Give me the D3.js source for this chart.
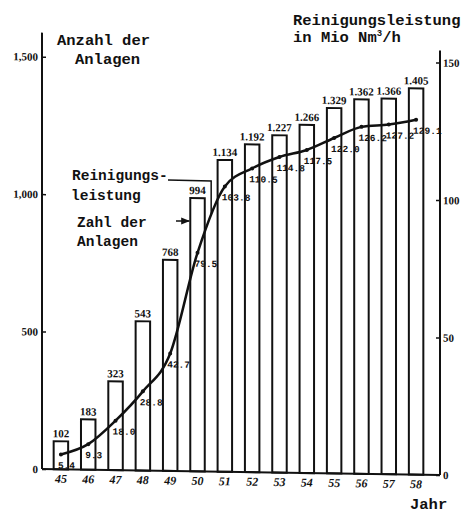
<!DOCTYPE html>
<html>
<head>
<meta charset="utf-8">
<script src="https://cdn.jsdelivr.net/npm/d3@7"></script>
<style>
  body { margin: 0; background: #fff; }
  .mono { font-family: "Liberation Mono", "DejaVu Sans Mono", monospace; font-weight: bold; fill: #111; }
  .num { font-family: "Liberation Serif", "DejaVu Serif", serif; font-weight: bold; fill: #111; }
</style>
</head>
<body>
<div id="chart"></div>
<script>
// years (19xx) on the x axis
const years = ["45", "46", "47", "48", "49", "50", "51", "52", "53", "54", "55", "56", "57", "58"];
// Anzahl der Anlagen (bars, left axis)
const anlagen = [102, 183, 323, 543, 768, 994, 1134, 1192, 1227, 1266, 1329, 1362, 1366, 1405];
// Reinigungsleistung in Mio Nm3/h (line, right axis)
const leistung = [5.4, 9.3, 18.0, 28.8, 42.7, 79.5, 103.8, 110.5, 114.8, 117.5, 122.0, 126.2, 127.2, 129.1];
// tick labels
const leftTicks = [0, 500, 1000, 1500];
const rightTicks = [0, 50, 100, 150];

function AnlagenChart({
    target,
    width = 467,
    height = 516,
    axisLeftX = 42,    // left axis line
    axisRightX = 440,  // right axis line
    base = 468.4,      // baseline (before skew)
    top = 56,          // y of 1,500 / 150
    skew = 0.86,       // the scan is slightly sheared
} = {}) {
    const svg = d3.select(target)
        .append("svg")
        .attr("width", width)
        .attr("height", height)
        .style("background", "#fff");

    const k = Math.tan(skew * Math.PI / 180);
    const g = svg.append("g").attr("transform", `skewY(${skew})`);

    const x = d3.scaleBand().domain(years).range([40, 437]).paddingInner(0.47).paddingOuter(0.5);
    const yL = d3.scaleLinear().domain([0, 1500]).range([base, top]);
    const yR = d3.scaleLinear().domain([0, 150]).range([base, top]);
    const bw = x.bandwidth();
    const cx = d => x(d) + bw / 2;

    // bars
    g.selectAll(".bar")
        .data(anlagen)
        .enter().append("rect")
        .attr("class", "bar")
        .attr("x", (d, i) => x(years[i]))
        .attr("y", d => yL(d))
        .attr("width", bw)
        .attr("height", d => base - yL(d))
        .attr("fill", "#fff")
        .attr("stroke", "#111")
        .attr("stroke-width", 2);

    // bar values, german thousands separator
    const de = d3.formatLocale({decimal: ",", thousands: ".", grouping: [3], currency: ["", ""]});
    g.selectAll(".barlabel")
        .data(anlagen)
        .enter().append("text")
        .attr("class", "num")
        .attr("x", (d, i) => cx(years[i]))
        .attr("y", d => yL(d) - 4)
        .attr("text-anchor", "middle")
        .style("font-size", "11px")
        .text(d => de.format(",")(d));

    // axes
    const leftAxis = g.append("g")
        .attr("transform", `translate(${axisLeftX},0)`)
        .call(d3.axisLeft(yL).tickValues(leftTicks).tickFormat(d3.format(",")).tickSizeInner(-4).tickSizeOuter(0).tickPadding(4));
    const rightAxis = g.append("g")
        .attr("transform", `translate(${axisRightX},0)`)
        .call(d3.axisRight(yR).tickValues(rightTicks).tickSizeInner(-4).tickSizeOuter(0).tickPadding(3));
    [leftAxis, rightAxis].forEach(a => {
        a.select(".domain").remove();
        a.selectAll("line").attr("stroke", "#111").attr("stroke-width", 1.5);
        a.selectAll("text").attr("class", "num").style("font-size", "11px");
    });

    const yearAxis = g.append("g")
        .attr("transform", `translate(0,${base})`)
        .call(d3.axisBottom(x).tickSize(0).tickPadding(5));
    yearAxis.select(".domain").remove();
    yearAxis.selectAll("text").attr("class", "num").style("font-size", "12px").style("font-style", "italic");

    // axis lines and baseline
    g.append("line").attr("x1", axisLeftX).attr("x2", axisLeftX).attr("y1", 32).attr("y2", base)
        .attr("stroke", "#111").attr("stroke-width", 2);
    g.append("line").attr("x1", axisRightX).attr("x2", axisRightX).attr("y1", 44).attr("y2", base)
        .attr("stroke", "#111").attr("stroke-width", 2);
    g.append("line").attr("x1", axisLeftX).attr("x2", axisRightX).attr("y1", base).attr("y2", base)
        .attr("stroke", "#111").attr("stroke-width", 2);

    // Reinigungsleistung line
    const line = d3.line()
        .x((d, i) => cx(years[i]))
        .y(d => yR(d))
        .curve(d3.curveMonotoneX);
    g.append("path")
        .datum(leistung)
        .attr("d", line)
        .attr("fill", "none")
        .attr("stroke", "#111")
        .attr("stroke-width", 2.5);
    g.selectAll(".pt")
        .data(leistung)
        .enter().append("circle")
        .attr("cx", (d, i) => cx(years[i]))
        .attr("cy", d => yR(d))
        .attr("r", 2)
        .attr("fill", "#111");
    g.selectAll(".linelabel")
        .data(leistung)
        .enter().append("text")
        .attr("class", "mono")
        .attr("x", (d, i) => cx(years[i]) - 3)
        .attr("y", d => yR(d) + 14)
        .style("font-size", "9.5px")
        .text(d => d3.format(".1f")(d));

    // titles
    const txt = (t, tx, ty, size) => svg.append("text").attr("class", "mono")
        .attr("x", tx).attr("y", ty).style("font-size", size + "px").text(t);
    txt("Anzahl der", 57, 45, 15.5);
    txt("Anlagen", 75, 64, 15.5);
    txt("Reinigungsleistung", 293, 25, 15.5);
    const unit = txt("in Mio Nm", 293, 42, 15.5);
    unit.append("tspan").attr("dy", -6).style("font-size", "9px").text("3");
    unit.append("tspan").attr("dy", 6).text("/h");
    txt("Jahr", 410, 509, 15.5);

    // callouts
    txt("Reinigungs-", 72, 180, 14.5);
    txt("leistung", 71, 200, 14.5);
    txt("Zahl der", 77, 227, 14.5);
    txt("Anlagen", 77, 246, 14.5);

    const lx = x("50") + bw + (x.step() - bw) / 2;
    svg.append("path")
        .attr("d", `M168,180 L${lx},181 L${lx},${yR(93) + lx * k}`)
        .attr("fill", "none").attr("stroke", "#111").attr("stroke-width", 1.5);

    svg.append("defs").append("marker")
        .attr("id", "arrow").attr("viewBox", "0 0 10 10").attr("refX", 9).attr("refY", 5)
        .attr("markerWidth", 6).attr("markerHeight", 6).attr("orient", "auto")
        .append("path").attr("d", "M0,1 L10,5 L0,9 Z").attr("fill", "#111");
    svg.append("line")
        .attr("x1", 176).attr("x2", x("50") - 1).attr("y1", 221).attr("y2", 221)
        .attr("stroke", "#111").attr("stroke-width", 1.5)
        .attr("marker-end", "url(#arrow)");
}

AnlagenChart({
    target: "#chart",
});
</script>
</body>
</html>
